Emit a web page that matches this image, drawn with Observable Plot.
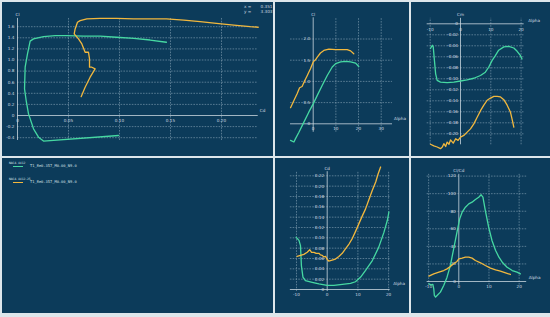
<!DOCTYPE html>
<html><head><meta charset="utf-8">
<script src="https://cdn.jsdelivr.net/npm/d3@7"></script>
<script src="https://cdn.jsdelivr.net/npm/@observablehq/plot@0.6"></script>
<style>
html,body{margin:0;padding:0;background:#dde6eb;}
#root{position:relative;width:550px;height:317px;background:#dde6eb;overflow:hidden;}
.panel{position:absolute;background:#0c3b5a;overflow:hidden;}
.panel svg{display:block;}
.lg{position:absolute;font-family:"DejaVu Sans Mono",monospace;color:#d6e0e6;white-space:nowrap;line-height:1;}
.lgline{position:absolute;height:1.4px;}
</style>
</head><body><div id="root"></div>
<script>
// ---------- data ----------
const seriesNames = ["NACA 4412", "NACA 4412-25"];
const polarName = "T1_Re0.357_M0.00_N9.0";

// Cl vs Cd  [Cd, Cl]
const clCdA = [[0.099,-0.36],[0.0255,-0.46],[0.0206,-0.39],[0.0157,-0.24],[0.0108,0.03],[0.0085,0.27],[0.0069,0.48],[0.0075,0.87],[0.0098,1.11],[0.0124,1.34],[0.0157,1.38],[0.0255,1.42],[0.037,1.44],[0.048,1.44],[0.065,1.43],[0.081,1.43],[0.097,1.41],[0.114,1.39],[0.130,1.36],[0.146,1.32]];
const clCdB = [[0.0624,0.34],[0.0663,0.51],[0.0712,0.69],[0.0761,0.84],[0.0729,0.87],[0.0706,0.87],[0.0706,1.02],[0.0696,1.14],[0.0663,1.14],[0.0631,1.29],[0.0598,1.38],[0.0556,1.47],[0.0565,1.56],[0.0588,1.68],[0.0614,1.71],[0.068,1.74],[0.081,1.75],[0.097,1.75],[0.114,1.74],[0.130,1.74],[0.146,1.74],[0.163,1.72],[0.179,1.69],[0.195,1.66],[0.212,1.63],[0.228,1.60],[0.236,1.59]];

// Cl vs Alpha [alpha, Cl]
const clAlphaA = [[-10,-0.39],[-8.5,-0.43],[-7.8,-0.35],[-6.3,-0.20],[-4.1,0.04],[-1.9,0.28],[0,0.47],[1.8,0.67],[4.0,0.91],[6.2,1.14],[8.4,1.34],[9.9,1.42],[12.1,1.46],[14.3,1.47],[16.5,1.46],[18.7,1.43],[20.1,1.35]];
const clAlphaB = [[-10,0.38],[-8.5,0.55],[-7.1,0.71],[-6.0,0.85],[-4.9,0.88],[-3.7,1.02],[-2.6,1.14],[-1.9,1.22],[-1.2,1.30],[0,1.46],[1.0,1.51],[1.8,1.57],[3.2,1.67],[4.7,1.73],[6.9,1.76],[9.9,1.75],[12.8,1.75],[15.0,1.75],[16.5,1.72],[17.9,1.65]];

// Cm vs Alpha [alpha, Cm]
const cmAlphaA = [[-9.9,-0.045],[-9.3,-0.039],[-9.0,-0.042],[-8.6,-0.067],[-8.2,-0.091],[-7.7,-0.103],[-6.6,-0.106],[-4.4,-0.107],[-2.2,-0.106],[0,-0.104],[2.2,-0.102],[4.4,-0.099],[6.6,-0.094],[8.2,-0.088],[9.3,-0.079],[10.4,-0.067],[11.5,-0.058],[12.6,-0.048],[14.3,-0.042],[15.9,-0.041],[17.6,-0.044],[18.7,-0.050],[19.8,-0.058],[20.3,-0.064]];
const cmAlphaB = [[-9.9,-0.219],[-8.8,-0.222],[-7.7,-0.224],[-6.6,-0.227],[-6.0,-0.224],[-5.5,-0.218],[-4.9,-0.223],[-4.4,-0.215],[-3.8,-0.219],[-3.3,-0.211],[-2.4,-0.217],[-1.6,-0.209],[-0.8,-0.212],[0,-0.206],[1.1,-0.203],[2.2,-0.197],[3.3,-0.191],[4.4,-0.182],[5.5,-0.170],[6.6,-0.158],[7.7,-0.148],[8.8,-0.139],[9.9,-0.135],[11.0,-0.132],[12.1,-0.132],[13.2,-0.133],[14.3,-0.138],[15.4,-0.148],[16.5,-0.161],[17.0,-0.173],[17.6,-0.188]];

// Cd vs Alpha [alpha, Cd]
const cdAlphaA = [[-10.1,0.101],[-9.2,0.095],[-8.7,0.085],[-8.4,0.046],[-7.9,0.024],[-7.1,0.017],[-4.9,0.014],[-2.7,0.011],[0,0.008],[2.2,0.008],[4.9,0.010],[7.6,0.012],[9.2,0.015],[10.9,0.024],[12.5,0.037],[14.7,0.056],[16.8,0.082],[18.5,0.111],[19.6,0.134],[20.1,0.150]];
const cdAlphaB = [[-9.8,0.064],[-8.7,0.066],[-7.6,0.068],[-6.5,0.072],[-5.7,0.077],[-5.1,0.072],[-4.3,0.072],[-3.6,0.070],[-2.7,0.070],[-2.2,0.067],[-1.6,0.066],[-1.1,0.063],[-0.5,0.064],[0,0.058],[0.5,0.055],[1.6,0.057],[2.7,0.059],[3.8,0.064],[4.9,0.070],[6.0,0.079],[7.1,0.088],[8.2,0.099],[9.2,0.112],[10.3,0.127],[11.4,0.142],[12.5,0.156],[13.6,0.174],[14.7,0.192],[15.8,0.208],[16.6,0.224],[17.4,0.237]];

// Cl/Cd vs Alpha [alpha, Cl/Cd]
const glideA = [[-9.9,-2.7],[-9.2,-3.8],[-8.6,-3.4],[-8.3,-8.3],[-8.1,-15.9],[-7.7,-17.8],[-7.2,-15.9],[-6.1,-12.1],[-5.0,-4.6],[-3.9,4.9],[-2.8,18.2],[-1.7,37.2],[-0.6,56.2],[0.3,71.3],[1.1,78.9],[2.2,84.6],[3.3,88.4],[4.4,90.3],[5.5,93.4],[6.6,96.0],[7.4,98.7],[8.0,96.0],[8.8,80.8],[9.9,61.9],[11.0,46.7],[12.2,35.3],[13.3,27.7],[14.4,22.0],[16.0,16.3],[17.7,12.5],[19.3,10.6],[20.4,8.7]];
const glideB = [[-9.9,6.1],[-8.3,8.7],[-6.6,10.6],[-5.0,12.5],[-3.9,14.4],[-2.8,17.1],[-1.7,20.1],[-0.6,22.8],[0,25.8],[1.1,26.6],[2.2,27.7],[3.3,27.7],[4.4,26.6],[5.5,23.9],[7.2,21.3],[8.8,18.2],[10.5,15.2],[12.2,13.3],[13.8,11.8],[15.5,9.9],[17.1,8.0]];

// tick values
const clCdXTicks = [0, 0.05, 0.10, 0.15, 0.20];
const clCdYTicks = [-0.4, -0.2, 0, 0.2, 0.4, 0.6, 0.8, 1.0, 1.2, 1.4, 1.6];
const clAlphaXTicks = [0, 10, 20, 30];
const clAlphaYTicks = [0, 0.5, 1.0, 1.5, 2.0];
const cmAlphaXTicks = [-10, 0, 10, 20];
const cmAlphaYTicks = [0, -0.02, -0.04, -0.06, -0.08, -0.10, -0.12, -0.14, -0.16, -0.18, -0.20];
const cdAlphaXTicks = [-10, 0, 10, 20];
const cdAlphaYTicks = [0, 0.02, 0.04, 0.06, 0.08, 0.10, 0.12, 0.14, 0.16, 0.18, 0.20, 0.22];
const glideXTicks = [-10, 0, 10, 20];
const glideYTicks = [0, 20, 40, 60, 80, 100, 120];
const cursorLabels = ["x =", "y ="];
const cursorValues = ["0.351", "3.303"];

// ---------- style ----------
const colors = ["#46d8a2", "#f2b83e"];
const gridColor = "#8aa6b8";
const axisColor = "#c9d6de";
const textColor = "#cfdae1";
const FS = 4.2;
const FONT = "DejaVu Sans, sans-serif";

const root = document.getElementById("root");

function box(x, y, w, h) {
  const d = document.createElement("div");
  d.className = "panel";
  Object.assign(d.style, {left: x + "px", top: y + "px", width: w + "px", height: h + "px"});
  root.append(d);
  return d;
}
// pixel mapping -> domains
function xDom(origin, k, size) { return [-origin / k, (size - origin) / k]; }
function yDom(origin, k, size) { return [-(size - origin) / k, origin / k]; }

function graph(p) {
  const d = box(p.x, p.y, p.w, p.h);
  const gx = p.xTicks.filter(v => v !== 0);
  const gy = p.yTicks.filter(v => v !== 0);
  const marks = [
    Plot.ruleX(gx, {y1: p.gy[0], y2: p.gy[1], stroke: gridColor, strokeWidth: 0.6, strokeDasharray: "1.6,1.2"}),
    Plot.ruleY(gy, {x1: p.gx[0], x2: p.gx[1], stroke: gridColor, strokeWidth: 0.6, strokeDasharray: "1.6,1.2"}),
    Plot.ruleY([0], {x1: p.gx[0], x2: p.gx[1], stroke: axisColor, strokeWidth: 0.8}),
    Plot.ruleX([0], {y1: p.gy[0], y2: p.gy[1], stroke: axisColor, strokeWidth: 0.8}),
    Plot.text(p.xTicks, {x: v => v, y: 0, text: p.xFmt, dy: p.xdy, fontSize: FS, fill: textColor, fontFamily: FONT}),
    Plot.text(p.yTicks, {x: 0, y: v => v, text: p.yFmt, dx: p.ydx, textAnchor: "end", fontSize: FS, fill: textColor, fontFamily: FONT}),
    Plot.text([p.yLabel], {x: 0, y: p.gy[1], text: v => v, dy: -3.5, fontSize: FS, fill: textColor, fontFamily: FONT}),
    Plot.text([p.xLabel], {x: p.gx[1], y: 0, text: v => v, dx: p.xLabDx, dy: p.xLabDy, textAnchor: "start", fontSize: FS, fill: textColor, fontFamily: FONT}),
    ...p.series.map((s, i) => Plot.line(s, {x: "0", y: "1", stroke: colors[i], strokeWidth: 1.3, curve: "linear"})),
    ...(p.extra || [])
  ];
  d.append(Plot.plot({
    width: p.w, height: p.h, margin: 0,
    x: {domain: p.xDomain, axis: null},
    y: {domain: p.yDomain, axis: null},
    style: {background: "none", overflow: "visible"},
    marks
  }));
}

const f1 = v => v === 0 ? "0" : v.toFixed(1);
const f2 = v => v === 0 ? "0" : v.toFixed(2);
const f0 = v => String(v);

// Panel A: Cl vs Cd
graph({
  x: 2, y: 2, w: 271, h: 154,
  xDomain: xDom(15, 1020, 271), yDomain: yDom(113, 55.5, 154),
  xTicks: clCdXTicks, yTicks: clCdYTicks, xFmt: f2, yFmt: f1,
  gx: [0, 0.236], gy: [-0.45, 1.75],
  xdy: 5, ydx: -3, yLabel: "Cl", xLabel: "Cd", xLabDx: 1.5, xLabDy: -5,
  series: [clCdA, clCdB],
  extra: [
    Plot.text(cursorLabels, {x: 0.222, y: (d, i) => 1.97 - i * 0.09, text: d => d, textAnchor: "start", fontSize: FS, fill: textColor, fontFamily: FONT}),
    Plot.text(cursorValues, {x: 0.250, y: (d, i) => 1.97 - i * 0.09, text: d => d, textAnchor: "end", fontSize: FS, fill: textColor, fontFamily: FONT})
  ]
});

// Panel B: Cl vs Alpha
graph({
  x: 275, y: 2, w: 134, h: 154,
  xDomain: xDom(37.7, 2.267, 134), yDomain: yDom(121.3, 42.4, 154),
  xTicks: clAlphaXTicks, yTicks: clAlphaYTicks, xFmt: f0, yFmt: f1,
  gx: [-10, 35], gy: [-0.2, 2.5],
  xdy: 5, ydx: -3, yLabel: "Cl", xLabel: "Alpha", xLabDx: 1.5, xLabDy: -5,
  series: [clAlphaA, clAlphaB]
});

// Panel C: Cm vs Alpha
graph({
  x: 411, y: 2, w: 139, h: 154,
  xDomain: xDom(49, 3.03, 139), yDomain: yDom(21.3, 550, 154),
  xTicks: cmAlphaXTicks, yTicks: cmAlphaYTicks, xFmt: f0, yFmt: f2,
  gx: [-11, 21], gy: [-0.22, 0.01],
  xdy: 6, ydx: -2.5, yLabel: "Cm", xLabel: "Alpha", xLabDx: 4, xLabDy: -3.5,
  series: [cmAlphaA, cmAlphaB]
});

// Panel D: Cd vs Alpha
graph({
  x: 275, y: 158, w: 134, h: 155,
  xDomain: xDom(51.7, 3.07, 134), yDomain: yDom(131, 516.7, 155),
  xTicks: cdAlphaXTicks, yTicks: cdAlphaYTicks, xFmt: f0, yFmt: f2,
  gx: [-12, 20.5], gy: [-0.004, 0.228],
  xdy: 5, ydx: -3, yLabel: "Cd", xLabel: "Alpha", xLabDx: 3, xLabDy: -6,
  series: [cdAlphaA, cdAlphaB]
});

// Panel E: Cl/Cd vs Alpha
graph({
  x: 411, y: 158, w: 139, h: 155,
  xDomain: xDom(47.3, 3.017, 139), yDomain: yDom(123, 0.8783, 155),
  xTicks: glideXTicks, yTicks: glideYTicks, xFmt: f0, yFmt: f0,
  gx: [-10.5, 22.5], gy: [-4, 122],
  xdy: 5, ydx: -3, yLabel: "Cl/Cd", xLabel: "Alpha", xLabDx: 2, xLabDy: -4,
  series: [glideA, glideB]
});

// Legend panel
const lgp = box(2, 158, 271, 155);
seriesNames.forEach((name, i) => {
  const t = document.createElement("div");
  t.className = "lg"; t.textContent = name;
  Object.assign(t.style, {left: "7px", top: (3.5 + i * 16) + "px", fontSize: "3px"});
  lgp.append(t);
  const l = document.createElement("div");
  l.className = "lgline";
  Object.assign(l.style, {left: "11px", top: (7.5 + i * 16) + "px", width: "10px", background: colors[i]});
  lgp.append(l);
  const p = document.createElement("div");
  p.className = "lg"; p.textContent = polarName;
  Object.assign(p.style, {left: "28px", top: (6.6 + i * 16) + "px", fontSize: "3.7px"});
  lgp.append(p);
});
</script>
</body></html>
